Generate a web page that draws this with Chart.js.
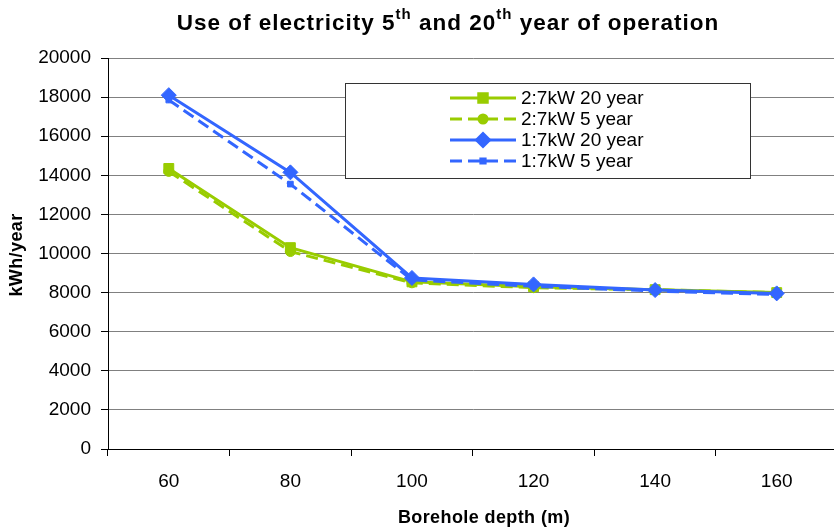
<!DOCTYPE html>
<html>
<head>
<meta charset="utf-8">
<script src="https://cdn.jsdelivr.net/npm/chart.js@4.4.1/dist/chart.umd.min.js"></script>
<style>
    html, body { margin: 0; padding: 0; background: #fff; overflow: hidden; }
    #caja { width: 846px; height: 529px; }
</style>
</head>
<body>
<div id="caja"><canvas id="grafico" width="846" height="529"></canvas></div>
<script>
// Profundidad del pozo (m)
const profundidades = ['60', '80', '100', '120', '140', '160'];

// kWh/year
const consumo27kW20 = [14350, 10300, 8550, 8300, 8150, 8000];
const consumo27kW5 = [14200, 10100, 8500, 8250, 8150, 8000];
const consumo17kW20 = [18100, 14150, 8750, 8420, 8130, 7960];
const consumo17kW5 = [17850, 13550, 8650, 8320, 8080, 7900];

const ticksY = [0, 2000, 4000, 6000, 8000, 10000, 12000, 14000, 16000, 18000, 20000];

const nombresSeries = ['2:7kW 20 year', '2:7kW 5 year', '1:7kW 20 year', '1:7kW 5 year'];

const tituloPartes = [
    { t: 'Use of electricity 5', sup: false },
    { t: 'th', sup: true },
    { t: ' and 20', sup: false },
    { t: 'th', sup: true },
    { t: ' year of operation', sup: false }
];
const tituloX = 'Borehole depth (m)';
const tituloY = 'kWh/year';

const verde = '#99CC00';
const azul = '#3366FF';
const fuente = '"Liberation Sans", Arial, sans-serif';

// titulos (el principal lleva superindices)
const pluginTitulo = {
    id: 'tituloSup',
    afterDraw(chart) {
        const ctx = chart.ctx;
        ctx.save();
        ctx.fillStyle = '#000';
        ctx.textBaseline = 'alphabetic';
        ctx.letterSpacing = '1px';
        const fNormal = 'bold 22.5px ' + fuente;
        const fSup = 'bold 15px ' + fuente;
        let total = 0;
        tituloPartes.forEach(p => {
            ctx.font = p.sup ? fSup : fNormal;
            total += ctx.measureText(p.t).width;
        });
        let x = 448 - total / 2;
        tituloPartes.forEach(p => {
            ctx.font = p.sup ? fSup : fNormal;
            ctx.fillText(p.t, x, p.sup ? 19 : 30);
            x += ctx.measureText(p.t).width;
        });

        // titulos de ejes
        ctx.letterSpacing = '0.4px';
        ctx.font = 'bold 18px ' + fuente;
        ctx.textAlign = 'center';
        ctx.textBaseline = 'middle';
        ctx.fillText(tituloX, 484, 518);
        ctx.translate(17, 255);
        ctx.rotate(-Math.PI / 2);
        ctx.fillText(tituloY, 0, 0);
        ctx.restore();
    }
};

// leyenda en caja dentro del area
const pluginLeyenda = {
    id: 'leyendaCaja',
    afterDraw(chart) {
        const ctx = chart.ctx;
        ctx.save();
        ctx.fillStyle = '#fff';
        ctx.fillRect(345.5, 83.5, 405, 95);
        ctx.strokeStyle = '#333';
        ctx.lineWidth = 1;
        ctx.strokeRect(345.5, 83.5, 405, 95);

        chart.data.datasets.forEach((ds, i) => {
            const y = 98 + i * 21;
            ctx.strokeStyle = ds.borderColor;
            ctx.lineWidth = ds.borderWidth;
            ctx.setLineDash(ds.borderDash || []);
            ctx.beginPath();
            ctx.moveTo(450, y);
            ctx.lineTo(516, y);
            ctx.stroke();
            ctx.setLineDash([]);
            Chart.helpers.drawPoint(ctx, {
                pointStyle: ds.pointStyle,
                radius: ds.pointRadius - 1,
                borderWidth: 1
            }, 483, y);
            ctx.fillStyle = ds.borderColor;
            ctx.fill();
            ctx.fillStyle = '#000';
            ctx.font = '19px ' + fuente;
            ctx.textBaseline = 'middle';
            ctx.fillText(ds.label, 521, y + 1);
        });
        ctx.restore();
    }
};

function serie(etiqueta, datos, color, punto, radio, guiones, orden) {
    return {
        label: etiqueta,
        data: datos,
        borderColor: color,
        backgroundColor: color,
        borderWidth: 3,
        borderDash: guiones,
        pointStyle: punto,
        pointRadius: radio,
        pointBorderWidth: 1,
        tension: 0,
        order: orden
    };
}

const ctxGrafico = document.getElementById('grafico').getContext('2d');
const grafico = new Chart(ctxGrafico, {
    type: 'line',
    data: {
        labels: profundidades,
        datasets: [
            serie(nombresSeries[0], consumo27kW20, verde, 'rect', 7, [], 2),
            serie(nombresSeries[1], consumo27kW5, verde, 'circle', 5, [12, 6], 3),
            serie(nombresSeries[2], consumo17kW20, azul, 'rectRot', 7.5, [], 0),
            serie(nombresSeries[3], consumo17kW5, azul, 'rect', 4, [12, 6], 1)
        ]
    },
    options: {
        responsive: false,
        animation: false,
        layout: { padding: { top: 58, right: 4, bottom: 0, left: 0 } },
        plugins: {
            legend: { display: false },
            title: { display: false },
            tooltip: { enabled: false }
        },
        scales: {
            x: {
                offset: true,
                grid: {
                    offset: true,
                    drawOnChartArea: false,
                    drawTicks: true,
                    tickLength: 7,
                    color: '#000'
                },
                border: { color: '#000', width: 1 },
                ticks: {
                    color: '#000',
                    padding: 14,
                    maxRotation: 0,
                    font: { family: fuente, size: 19 }
                },
                afterFit(scale) { scale.height = 80; }
            },
            y: {
                min: 0,
                max: 20000,
                afterBuildTicks(scale) {
                    scale.ticks = ticksY.map(v => ({ value: v }));
                },
                grid: {
                    color: '#808080',
                    tickColor: '#000',
                    tickLength: 7,
                    drawTicks: true
                },
                border: { color: '#000', width: 1 },
                ticks: {
                    color: '#000',
                    padding: 10,
                    callback: (valor) => String(valor),
                    font: { family: fuente, size: 19 }
                },
                afterFit(scale) { scale.width = 108; }
            }
        }
    },
    plugins: [pluginTitulo, pluginLeyenda]
});
</script>
</body>
</html>
